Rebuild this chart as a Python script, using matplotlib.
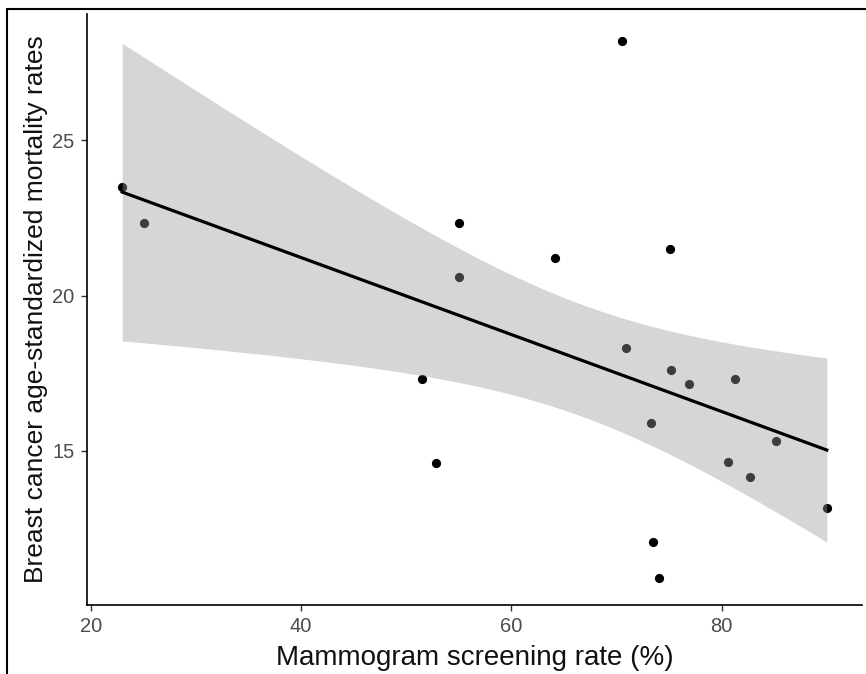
import numpy as np
import matplotlib
matplotlib.use("Agg")
import matplotlib.pyplot as plt
from matplotlib.patches import Rectangle

# Data
screening_rate = [23.0, 25.1, 55.0, 55.0, 64.2, 70.5, 75.1, 51.5, 52.8, 70.9,
                  75.2, 76.9, 81.3, 73.3, 80.6, 82.7, 85.2, 73.5, 74.0, 90.0]
mortality_rate = [23.5, 22.35, 22.35, 20.6, 21.2, 28.2, 21.5, 17.3, 14.6, 18.3,
                  17.6, 17.15, 17.3, 15.9, 14.65, 14.15, 15.3, 12.05, 10.9, 13.15]
x_ticks = [20, 40, 60, 80]
y_ticks = [15, 20, 25]
x_label = "Mammogram screening rate (%)"
y_label = "Breast cancer age-standardized mortality rates"

plt.rcParams['font.family'] = ['Liberation Sans', 'DejaVu Sans']

x = np.array(screening_rate)
y = np.array(mortality_rate)

fig = plt.figure(figsize=(8.66, 6.74), dpi=100)
W, H = 866, 674
ax = fig.add_axes([87 / W, (H - 605) / H, (862 - 87) / W, (605 - 14) / H])

# points first (ribbon drawn over them, as in ggplot)
ax.scatter(x, y, s=44, color='black', zorder=2, linewidths=0)

# linear fit with 95% CI
n = len(x)
slope, intercept = np.polyfit(x, y, 1)
xs = np.linspace(x.min(), x.max(), 100)
ys = intercept + slope * xs
resid = y - (intercept + slope * x)
s = np.sqrt(np.sum(resid ** 2) / (n - 2))
sxx = np.sum((x - x.mean()) ** 2)
se = s * np.sqrt(1.0 / n + (xs - x.mean()) ** 2 / sxx)
t_crit = 2.1009  # t(0.975, df=18)
ax.fill_between(xs, ys - t_crit * se, ys + t_crit * se, color='#999999', alpha=0.4,
                linewidth=0, zorder=3)
ax.plot(xs, ys, color='black', linewidth=2.3, zorder=4)

xr = x.max() - x.min()
yr = y.max() - y.min()
ax.set_xlim(x.min() - 0.05 * xr, x.max() + 0.05 * xr)
ax.set_ylim(y.min() - 0.05 * yr, y.max() + 0.05 * yr)
ax.set_xticks(x_ticks)
ax.set_yticks(y_ticks)

for side in ['top', 'right']:
    ax.spines[side].set_visible(False)
for side in ['left', 'bottom']:
    ax.spines[side].set_color('black')
    ax.spines[side].set_linewidth(1.2)
ax.tick_params(axis='both', colors='#333333', labelcolor='#4D4D4D', labelsize=14.5,
               length=4, width=1, direction='out', pad=5)
ax.set_xlabel(x_label, fontsize=20, color='#111111', labelpad=6)
ax.set_ylabel(y_label, fontsize=19, color='#111111', labelpad=3)

# outer frame of the screenshot
fig.patches.append(Rectangle((7 / W, -0.1), 1.2, 1 - 9 / H + 0.1, transform=fig.transFigure,
                             fill=False, edgecolor='black', linewidth=1.5))

fig.savefig('out.png', dpi=100)
